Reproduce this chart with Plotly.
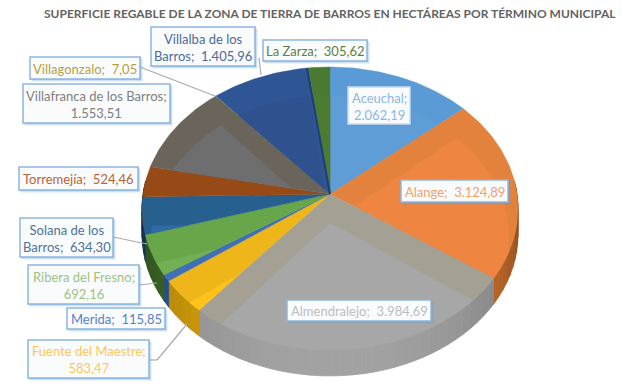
import math
import plotly.graph_objects as go

# ---- data ----
municipios = ["Aceuchal", "Alange", "Almendralejo", "Fuente del Maestre", "Merida",
              "Ribera del Fresno", "Solana de los Barros", "Torremejía",
              "Villafranca de los Barros", "Villagonzalo", "Villalba de los Barros", "La Zarza"]
hectareas = [2062.19, 3124.89, 3984.69, 583.47, 115.85, 692.16, 634.30, 524.46,
             1553.51, 7.05, 1405.96, 305.62]
etiqueta_lineas = [["Aceuchal;", "2.062,19"], ["Alange;  3.124,89"], ["Almendralejo;  3.984,69"],
                   ["Fuente del Maestre;", "583,47"], ["Merida;  115,85"],
                   ["Ribera del Fresno;", "692,16"], ["Solana de los", "Barros;  634,30"],
                   ["Torremejía;  524,46"], ["Villafranca de los Barros;", "1.553,51"],
                   ["Villagonzalo;  7,05"], ["Villalba de los", "Barros;  1.405,96"],
                   ["La Zarza;  305,62"]]
titulo = "SUPERFICIE REGABLE DE LA ZONA DE TIERRA DE BARROS EN HECTÁREAS POR TÉRMINO MUNICIPAL"

# ---- styles ----
banda = ["#5B9BD5", "#E2823C", "#A5A094", "#EFB61A", "#3F70B5", "#68A64A", "#275F8F",
         "#974A16", "#6A645A", "#8E7A20", "#2E5594", "#4A7A31"]
interior = ["#5F9DD6", "#EE8641", "#A7A7A7", "#FFC21A", "#3F70B5", "#72B054", "#2E6AA5",
            "#B05A20", "#6E6E6E", "#8E7A20", "#2F528F", "#4C7B32"]
pared = ["#5B9BD5", "#E07B30", "#A8A8A8", "#E2A90C", "#2F5FA8", "#44762E", "#1F4E79",
         "#7E3A0C", "#555555", "#7A6410", "#1F3864", "#35531F"]
color_texto = ["#8DB8E0", "#F0A070", "#BDBDBD", "#FFC84D", "#5A80C8", "#9CC480", "#4D7399",
               "#B5633A", "#7F7F7F", "#B8A040", "#4D6A9A", "#5F7F45"]
borde = ["#C5DCF0"] + ["#8DB6DF"] * 11
# label boxes: x0, x1, y0, y1 in pixels
cajas = [(348, 410, 87, 124), (401, 508, 180, 202), (287, 431, 300, 321), (28, 149, 340, 378),
         (67, 165, 308, 329), (28, 139, 265, 304), (20, 113, 218, 257), (19, 138, 167, 190),
         (23, 170, 84, 123), (30, 140, 57, 79), (151, 255, 27, 66), (263, 367, 40, 61)]
guias = [[(259, 58), (261, 75)], [(140, 67), (215, 96)], [(113, 237), (147, 244)],
         [(139, 285), (157, 283)], [(149, 360), (157, 360), (187, 324)]]

# pie projection
CX, CY, A, B, K = 330, 194, 187, 140, 0.102
GROSOR, DESPL, A_IN = 26, 29, 178


def punto(theta, a=A, dy=0):
    X, Y = math.sin(theta), math.cos(theta)
    d = 1 + K * Y
    return (CX + a * X / d, CY - B * Y / d + dy)


def arco(t0, t1, a=A, dy=0):
    n = max(2, int(abs(t1 - t0) / 0.02))
    return [punto(t0 + (t1 - t0) * i / n, a, dy) for i in range(n + 1)]


def recorta(poly, conv):
    """Sutherland-Hodgman clip of poly against a convex polygon."""
    out = poly
    for i in range(len(conv)):
        p, q = conv[i], conv[(i + 1) % len(conv)]
        ent, out = out, []
        lado = lambda r: (q[0] - p[0]) * (r[1] - p[1]) - (q[1] - p[1]) * (r[0] - p[0])
        for j in range(len(ent)):
            a, b = ent[j], ent[(j + 1) % len(ent)]
            sa, sb = lado(a), lado(b)
            if sa >= 0:
                out.append(a)
            if sa * sb < 0:
                u = sa / (sa - sb)
                out.append((a[0] + u * (b[0] - a[0]), a[1] + u * (b[1] - a[1])))
        if not out:
            return []
    return out


def sombra(col, f):
    c = [int(col[i:i + 2], 16) for i in (1, 3, 5)]
    return "rgb(%d,%d,%d)" % tuple(min(255, int(v * f)) for v in c)


def poligono(pts, col, name, lw=0.4):
    return go.Scatter(x=[p[0] for p in pts] + [pts[0][0]], y=[p[1] for p in pts] + [pts[0][1]],
                      mode="lines", fill="toself", fillcolor=col, line=dict(width=lw, color=col),
                      name=name, hoverinfo="name", showlegend=False)


fig = go.Figure()
total = sum(hectareas)
acc = 0.0
limites = []
for v in hectareas:
    limites.append((acc / total * 2 * math.pi, (acc + v) / total * 2 * math.pi))
    acc += v

# walls (fine steps so the shading reads as a gradient)
for i, (t0, t1) in enumerate(limites):
    lo, hi = max(t0, math.pi * 0.47), min(t1, math.pi * 1.53)
    if hi <= lo:
        continue
    n = max(1, int((hi - lo) / 0.05))
    for s in range(n):
        a0, a1 = lo + (hi - lo) * s / n, lo + (hi - lo) * (s + 1) / n
        m = (a0 + a1) / 2
        f = 0.55 + 0.42 * abs(math.cos(m)) ** 0.8
        top = arco(a0, a1)
        bot = arco(a1, a0, dy=GROSOR)
        fig.add_trace(poligono(top + bot, sombra(pared[i], f), municipios[i], lw=0.8))

# top surfaces
for i, (t0, t1) in enumerate(limites):
    cuna = [(CX, CY)] + arco(t0, t1)
    fig.add_trace(poligono(cuna, banda[i], municipios[i]))
    despl = [(CX, CY + DESPL)] + arco(t0, t1, a=A_IN, dy=DESPL)
    dentro = recorta(despl, cuna)
    if len(dentro) > 2:
        fig.add_trace(poligono(dentro, interior[i], municipios[i]))

# dark edge on the Villalba slice where it meets La Zarza
borde_t = limites[municipios.index("Villalba de los Barros")][1] - 0.008
p_borde = punto(borde_t)
fig.add_trace(go.Scatter(x=[CX, p_borde[0]], y=[CY, p_borde[1]], mode="lines",
                         line=dict(color="#1F3F77", width=2), hoverinfo="skip", showlegend=False))

# overlay shapes & labels
shapes = []
for g in guias:
    for p, q in zip(g[:-1], g[1:]):
        shapes.append(dict(type="line", x0=p[0], y0=p[1], x1=q[0], y1=q[1],
                           line=dict(color="#ABABAB", width=1.2), layer="above"))
annots = []
for i, (x0, x1, y0, y1) in enumerate(cajas):
    for off, al in ((3, .12), (2, .2), (1, .3)):
        shapes.append(dict(type="rect", x0=x0 + off - 1, x1=x1 + off, y0=y0 + off - 1, y1=y1 + off,
                           fillcolor="rgba(91,155,213,%s)" % al, line=dict(width=0), layer="above"))
    shapes.append(dict(type="rect", x0=x0, x1=x1, y0=y0, y1=y1, fillcolor="#F9FBFD",
                       line=dict(color=borde[i], width=1.5), layer="above"))
    annots.append(dict(x=(x0 + x1) / 2, y=(y0 + y1) / 2 + 0.5, xref="x", yref="y",
                       text="<br>".join(etiqueta_lineas[i]).replace("  ", "\u00a0\u00a0"),
                       showarrow=False, align="center",
                       font=dict(family="Lato", size=13, color=color_texto[i])))
annots.append(dict(x=330, y=13, xref="x", yref="y", text="<b>%s</b>" % titulo, showarrow=False,
                   font=dict(family="Lato", size=12, color="#636363")))

fig.update_layout(width=626, height=388, margin=dict(l=0, r=0, t=0, b=0),
                  paper_bgcolor="white", plot_bgcolor="white", showlegend=False,
                  xaxis=dict(range=[0, 626], visible=False, fixedrange=True),
                  yaxis=dict(range=[388, 0], visible=False, fixedrange=True),
                  shapes=shapes, annotations=annots)
fig.write_html("out.html", config=dict(displayModeBar=False),
               post_script="document.body.style.margin='0';")
